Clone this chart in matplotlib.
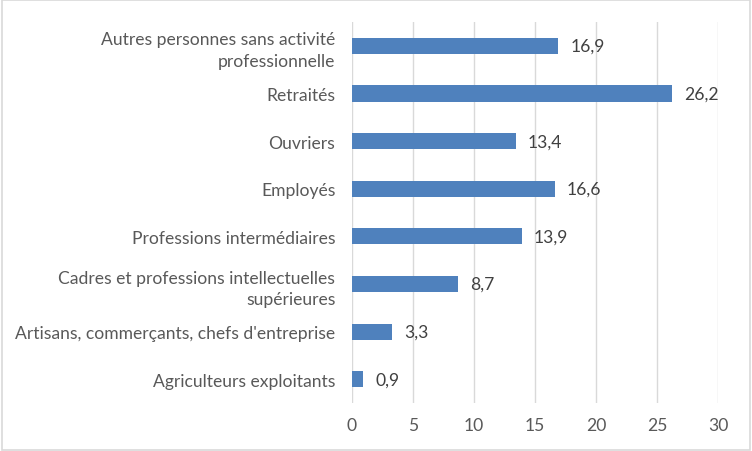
import matplotlib.pyplot as plt
from matplotlib.patches import Rectangle

# -------------------------
# Data
# -------------------------
categories = [
    "Agriculteurs exploitants",
    "Artisans, commerçants, chefs d'entreprise",
    "Cadres et professions intellectuelles\nsupérieures",
    "Professions intermédiaires",
    "Employés",
    "Ouvriers",
    "Retraités",
    "Autres personnes sans activité\nprofessionnelle",
]
values = [0.9, 3.3, 8.7, 13.9, 16.6, 13.4, 26.2, 16.9]
xticks = [0, 5, 10, 15, 20, 25, 30]

plt.rcParams['font.family'] = ['Lato', 'DejaVu Sans']

fig = plt.figure(figsize=(7.52, 4.52), dpi=100)
ax = fig.add_axes([0.468, 0.106, 0.487, 0.843])

ypos = range(len(categories))
ax.barh(ypos, values, height=0.34, color="#4f81bd", zorder=3)

for y, v in zip(ypos, values):
    ax.text(v + 1.0, y, f"{v:.1f}".replace(".", ","), va="center", ha="left",
            fontsize=12.6, color="#404040")

ax.set_xlim(0, 30)
ax.set_ylim(-0.5, len(categories) - 0.5)
ax.set_xticks(xticks)
ax.set_xticklabels([str(t) for t in xticks], fontsize=12.6, color="#595959")
ax.set_yticks(list(ypos))
ax.set_yticklabels(categories, fontsize=12.6, color="#595959", linespacing=1.45)
ax.tick_params(axis="x", length=0, pad=10)
ax.tick_params(axis="y", length=0, pad=12)

ax.grid(axis="x", color="#d9d9d9", linewidth=1, zorder=0)
for s in ax.spines.values():
    s.set_visible(False)

# outer frame
fig.patches.append(Rectangle((0.002, 0.003), 0.996, 0.994, transform=fig.transFigure,
                             fill=False, edgecolor="#d9d9d9", linewidth=1.2))

fig.savefig("out.png", dpi=100)
